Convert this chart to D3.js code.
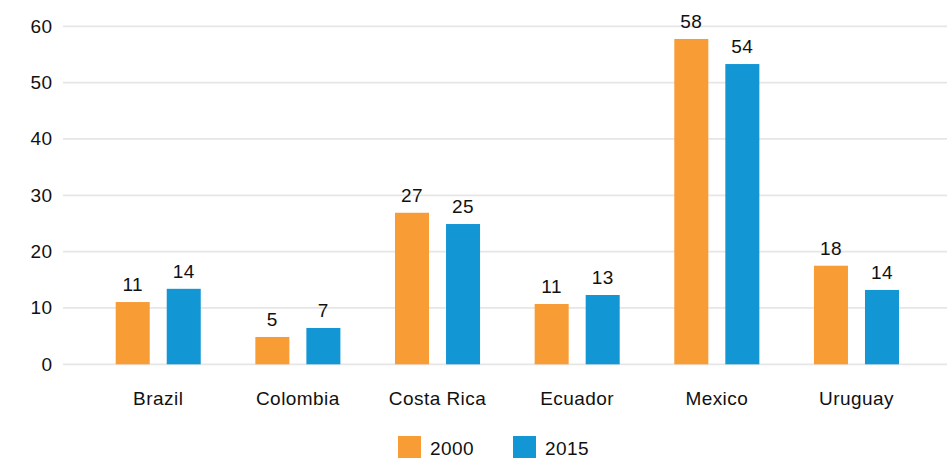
<!DOCTYPE html>
<html>
<head>
<meta charset="utf-8">
<script src="https://cdn.jsdelivr.net/npm/d3@7"></script>
<style>
  html, body { margin: 0; padding: 0; background: #fff; }
  svg { display: block; }
  text { font-family: "Liberation Sans", Arial, Helvetica, sans-serif; fill: #111; }
</style>
</head>
<body>
<svg id="chart" width="947" height="458"></svg>
<script>
const categories = ["Brazil", "Colombia", "Costa Rica", "Ecuador", "Mexico", "Uruguay"];
const seriesNames = ["2000", "2015"];
const values2000 = [11.05, 4.85, 26.9, 10.7, 57.75, 17.5];
const values2015 = [13.4, 6.45, 24.9, 12.3, 53.3, 13.2];
const labels2000 = ["11", "5", "27", "11", "58", "18"];
const labels2015 = ["14", "7", "25", "13", "54", "14"];
const yTicks = [0, 10, 20, 30, 40, 50, 60];
const colors = ["#f89c36", "#1396d4"];

const svg = d3.select("#chart");
const W = 947;
const FS = "19px", LS = "0.45px";

const y = d3.scaleLinear().domain([0, 60]).range([364.3, 26.3]);
const x0 = d3.scaleBand().domain(categories).range([88.4, 926.3])
  .paddingInner(0.391).paddingOuter(0.1955);
const x1 = d3.scaleBand().domain(seriesNames).range([0, x0.bandwidth()])
  .paddingInner(1 / 3).paddingOuter(0);

// gridlines
svg.append("g").selectAll("line").data(yTicks).join("line")
  .attr("x1", 63).attr("x2", W)
  .attr("y1", d => y(d)).attr("y2", d => y(d))
  .attr("stroke", "#e6e6e6").attr("stroke-width", 1.8);

// y tick labels
svg.append("g").selectAll("text").data(yTicks).join("text")
  .attr("x", 52.5).attr("y", d => y(d))
  .attr("text-anchor", "end").attr("dominant-baseline", "central")
  .style("font-size", FS).style("letter-spacing", LS)
  .text(d => d);

const rows = categories.map((c, i) => ({
  cat: c,
  items: [
    { s: seriesNames[0], v: values2000[i], l: labels2000[i], c: colors[0] },
    { s: seriesNames[1], v: values2015[i], l: labels2015[i], c: colors[1] }
  ]
}));

const groups = svg.append("g").selectAll("g").data(rows).join("g")
  .attr("transform", d => `translate(${x0(d.cat)},0)`);

groups.selectAll("rect").data(d => d.items).join("rect")
  .attr("x", d => x1(d.s)).attr("width", x1.bandwidth())
  .attr("y", d => y(d.v)).attr("height", d => y(0) - y(d.v))
  .attr("fill", d => d.c);

groups.selectAll("text.val").data(d => d.items).join("text")
  .attr("class", "val")
  .attr("x", d => x1(d.s) + x1.bandwidth() / 2)
  .attr("y", d => y(d.v) - 11)
  .attr("text-anchor", "middle")
  .style("font-size", FS).style("letter-spacing", LS)
  .text(d => d.l);

// category labels
svg.append("g").selectAll("text").data(categories).join("text")
  .attr("x", d => x0(d) + x0.bandwidth() / 2)
  .attr("y", 404.5)
  .attr("text-anchor", "middle")
  .style("font-size", FS).style("letter-spacing", LS)
  .text(d => d);

// legend
const legendX = [398, 513];
const legend = svg.append("g").selectAll("g").data(seriesNames).join("g")
  .attr("transform", (d, i) => `translate(${legendX[i]},436)`);
legend.append("rect").attr("width", 23).attr("height", 22)
  .attr("fill", (d, i) => colors[i]);
legend.append("text").attr("x", 32).attr("y", 18.5)
  .style("font-size", FS).style("letter-spacing", LS)
  .text(d => d);
</script>
</body>
</html>
